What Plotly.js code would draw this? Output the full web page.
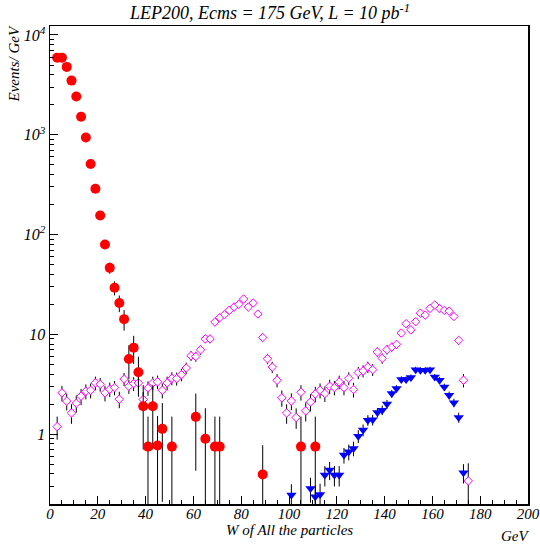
<!DOCTYPE html>
<html>
<head>
<meta charset="utf-8">
<script src="https://cdn.plot.ly/plotly-3.0.1.min.js"></script>
<style>html,body{margin:0;padding:0;background:#fff;}</style>
</head>
<body>
<div id="chart" style="width:540px;height:548px;"></div>
<script>
// ---- data (bin centres in GeV, Events/GeV) ----
const magentaX = [3,5,7,9,11,13,15,17,19,21,23,25,27,29,31,33,35,37,39,41,43,45,47,49,51,53,55,57,59,61,63,65,67,69,71,73,75,77,79,81,83,85,87,89,91,93,95,97,99,101,103,105,107,109,111,113,115,117,119,121,123,125,127,129,131,133,135,137,139,141,143,145,147,149,151,153,155,157,159,161,163,165,167,169,171,173,175];
const magentaY = [1.19,2.59,2.14,1.63,2.04,2.4,2.69,2.75,3.26,3.16,2.59,2.82,2.93,2.24,3.57,3.02,3.21,3.26,2.22,2.9,3.26,3.34,2.75,3.26,3.63,3.6,3.95,4.6,6.1,6.0,7.0,9.0,9.0,13.3,14.7,15.8,17.4,18.8,20,22.6,18.8,20.6,16,9.3,5.7,4.7,3.47,2.31,1.63,2.15,1.47,2.63,1.71,2.1,2.53,2.75,2.55,3.02,2.93,3.34,2.93,3.63,2.8,4.14,4.3,4.71,4.43,6.66,5.75,7.03,7.47,7.94,10.3,12.8,11.1,13.4,16.3,15.6,18.2,19.7,18.1,17.4,17.1,15.1,8.7,3.47,0.34];
const magentaErr = [0.31,0.46,0.41,0.36,0.40,0.44,0.46,0.47,0.51,0.50,0.46,0.47,0.48,0.42,0.53,0.49,0.51,0.51,0.42,0.48,0.51,0.52,0.47,0.51,0.54,0.54,0.56,0.61,0.70,0.69,0.75,0.85,0.85,1.03,1.08,1.12,1.18,1.23,1.26,1.34,1.23,1.28,1.13,0.86,0.68,0.61,0.53,0.43,0.36,0.41,0.34,0.46,0.37,0.41,0.45,0.47,0.45,0.49,0.48,0.52,0.48,0.54,0.47,0.58,0.59,0.61,0.60,0.73,0.68,0.75,0.77,0.80,0.91,1.01,0.94,1.04,1.14,1.12,1.21,1.26,1.20,1.18,1.17,1.10,0.83,0.53,0.17];

const redX = [3,5,7,9,11,13,15,17,19,21,23,25,27,29,31,33,35,37,39,41,43,45,47,51,61,65,69,71,89,105,111];
const redY = [5930,5930,4790,3490,2415,1514,940,509,288,155,79.4,46.4,29.3,20.6,14.2,5.67,7.36,4.17,1.9,0.75,1.9,0.77,1.13,0.75,1.49,0.9,0.75,0.75,0.395,0.75,0.75];
const redErr = [67,67,60,51,43,34,27,20,15,11,7.7,5.9,4.7,3.9,3.3,2.1,2.3,1.8,1.2,0.75,1.2,0.75,0.92,0.75,1.06,0.92,0.75,0.75,0.38,0.75,0.75];

const blueX = [101,109,111,113,115,117,119,121,123,125,127,129,131,133,135,137,139,141,143,145,147,149,151,153,155,157,159,161,163,165,167,169,171,173];
const blueY = [0.245,0.286,0.236,0.249,0.389,0.436,0.389,0.389,0.617,0.666,0.72,0.955,1.1,1.38,1.39,1.65,1.74,2.0,2.55,2.86,3.52,3.52,3.69,4.43,4.37,4.37,4.43,3.74,3.47,2.97,2.45,2.06,1.47,0.41];
const blueErr = [0.07,0.08,0.07,0.07,0.09,0.09,0.09,0.09,0.11,0.12,0.12,0.14,0.15,0.17,0.17,0.18,0.19,0.20,0.23,0.24,0.27,0.27,0.27,0.30,0.30,0.30,0.30,0.27,0.26,0.24,0.22,0.20,0.17,0.09];

const xTickVals = [0,20,40,60,80,100,120,140,160,180,200];
const yTickVals = [1,10,100,1000,10000];
const yTickText = ['1','10','10<sup>2</sup>','10<sup>3</sup>','10<sup>4</sup>'];

const titleText = 'LEP200, Ecms = 175 GeV, L = 10 pb<sup>-1</sup>';
const xTitle = 'W of All the particles';
const xUnit = 'GeV';
const yTitle = 'Events/ GeV';

// ---- styling ----
const serif = 'Liberation Serif, Times New Roman, serif';
const errStyle = (arr) => ({type:'data', array:arr, visible:true, color:'#000', thickness:1, width:0});

const yMinor = [];
for (let d = -1; d <= 4; d++) {
  for (let k = 2; k <= 9; k++) yMinor.push(k * Math.pow(10, d));
}

const traces = [
  {x: magentaX, y: magentaY, error_y: errStyle(magentaErr), type:'scatter', mode:'markers',
   marker:{symbol:'diamond', size:6.5, color:'#ffffff', line:{width:1, color:'#ff00ff'}}, cliponaxis:true},
  {x: blueX, y: blueY, error_y: errStyle(blueErr), type:'scatter', mode:'markers',
   marker:{symbol:'triangle-down', size:9, color:'#0000ff'}, cliponaxis:true},
  {x: redX, y: redY, error_y: errStyle(redErr), type:'scatter', mode:'markers',
   marker:{symbol:'circle', size:10, color:'#ff0000'}, cliponaxis:true}
];

const layout = {
  width:540, height:548,
  margin:{l:50, r:12, t:26, b:44},
  paper_bgcolor:'#fff', plot_bgcolor:'#fff',
  showlegend:false,
  title:{text:titleText, font:{family:serif, size:18, style:'italic', color:'#000'},
         x:0.5, xref:'container', xanchor:'center', y:1-13/548, yref:'container', yanchor:'middle'},
  xaxis:{range:[0,200], showgrid:false, zeroline:false,
         showline:true, mirror:true, linecolor:'#000', linewidth:1.5,
         tickmode:'array', tickvals:xTickVals, ticks:'inside', ticklen:8, tickwidth:1, tickcolor:'#000',
         ticklabelstandoff:-5,
         minor:{dtick:5, ticks:'inside', ticklen:4, tickwidth:1, tickcolor:'#000', showgrid:false},
         tickfont:{family:serif, size:15, style:'italic', color:'#000'}},
  yaxis:{type:'log', range:[-0.70, 4.09], showgrid:false, zeroline:false,
         showline:true, mirror:true, linecolor:'#000', linewidth:1.5,
         tickmode:'array', tickvals:yTickVals, ticktext:yTickText,
         ticks:'inside', ticklen:8, tickwidth:1, tickcolor:'#000',
         minor:{tickmode:'array', tickvals:yMinor, ticks:'inside', ticklen:4, tickwidth:1, tickcolor:'#000', showgrid:false},
         tickfont:{family:serif, size:16, style:'italic', color:'#000'}},
  annotations:[
    {text:xTitle, xref:'paper', yref:'paper', x:0.5, y:-0.0545, xanchor:'center', yanchor:'middle',
     showarrow:false, font:{family:serif, size:15, style:'italic', color:'#000'}},
    {text:xUnit, xref:'paper', yref:'paper', x:0.973, y:-0.067, xanchor:'center', yanchor:'middle',
     showarrow:false, font:{family:serif, size:15, style:'italic', color:'#000'}},
    {text:yTitle, xref:'paper', yref:'paper', x:-0.0753, y:0.9195, xanchor:'center', yanchor:'middle',
     textangle:-90, showarrow:false, font:{family:serif, size:15, style:'italic', color:'#000'}}
  ]
};

Plotly.newPlot('chart', traces, layout, {staticPlot:true, displayModeBar:false});
</script>
</body>
</html>
